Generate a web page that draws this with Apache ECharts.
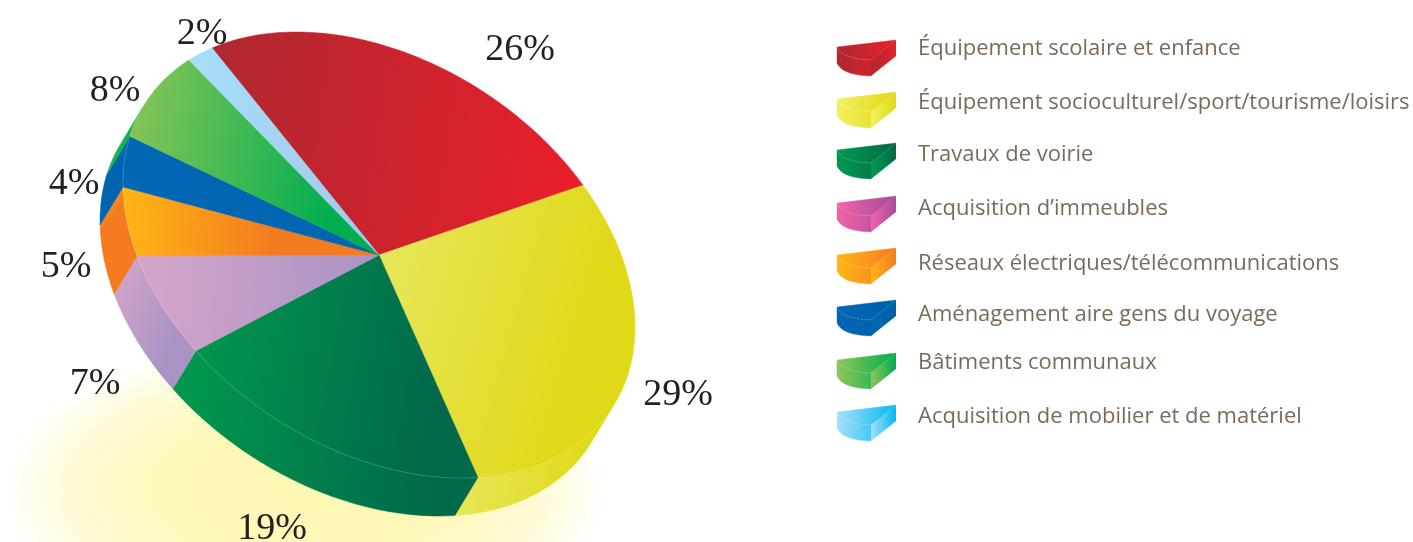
<!DOCTYPE html>
<html>
<head>
<meta charset="utf-8">
<style>html,body{margin:0;padding:0;background:#fff}#chart{width:1413px;height:542px}</style>
<script src="https://cdn.jsdelivr.net/npm/echarts@6/dist/echarts.min.js"></script>
</head>
<body>
<div id="chart"></div>
<script>
var categories = [
    "Équipement scolaire et enfance",
    "Équipement socioculturel/sport/tourisme/loisirs",
    "Travaux de voirie",
    "Acquisition d’immeubles",
    "Réseaux électriques/télécommunications",
    "Aménagement aire gens du voyage",
    "Bâtiments communaux",
    "Acquisition de mobilier et de matériel"
];
var shares = [26, 29, 19, 7, 5, 4, 8, 2];

// colours: [left, right, where the right colour is reached]
var sliceColors = [
    ["#AE2830", "#E81F2A", 1], ["#E8E862", "#E0D918", 0.9], ["#009A4E", "#00694A", 0.9],
    ["#D6A6CA", "#A993C4", 1], ["#FFB614", "#F47B20", 0.6], ["#0067B4", "#0065B0", 1],
    ["#8CC659", "#00AE4F", 0.9], ["#A6DFF9", "#A3CBEC", 1]
];
var legendColors = [
    ["#AE2830", "#E81F2A"], ["#F2F060", "#E0D915"], ["#009A4E", "#00694A"],
    ["#F263A9", "#A54B9C"], ["#FFB614", "#F47B20"], ["#0067B4", "#0060A8"],
    ["#8CC659", "#00AE4F"], ["#A6DFF9", "#00B9F2"]
];

// layout
var discCenter = [379, 255], axisU = [-167, -207], axisV = [194, -83], depth = [-23, 38];
var labelPos = [[520, 50], [678, 395], [272, 529], [95, 384], [66, 267], [74, 184], [115, 91], [202, 34]];
var legendTop = [40, 92, 143, 196, 248, 300, 353, 405];
var legendTextY = [49, 103, 155, 209, 264, 315, 363, 417];
var legendIconX = 837, legendTextX = 918;

var starts = [], sum = 0, total = 0;
shares.forEach(function (v) { total += v; });
shares.forEach(function (v) { starts.push(sum / total); sum += v; });

function discPoint(f) {
    var a = f * Math.PI * 2;
    return [
        discCenter[0] + axisU[0] * Math.cos(a) + axisV[0] * Math.sin(a),
        discCenter[1] + axisU[1] * Math.cos(a) + axisV[1] * Math.sin(a)
    ];
}
function arc(f0, f1) {
    var n = Math.ceil((f1 - f0) * 200) + 1, pts = [];
    for (var k = 0; k <= n; k++) pts.push(discPoint(f0 + (f1 - f0) * k / n));
    return pts;
}
function shifted(pts) {
    return pts.map(function (p) { return [p[0] + depth[0], p[1] + depth[1]]; });
}
function gradient(c) {
    return {
        type: "linear", x: 0, y: 0, x2: 1, y2: 0.25,
        colorStops: [{ offset: 0, color: c[0] }, { offset: c[2] || 1, color: c[1] }, { offset: 1, color: c[1] }]
    };
}
// part of the rim facing the viewer, between the two silhouette tangents
var cross = function (a, b) { return a[0] * b[1] - a[1] * b[0]; };
var frontStart = (Math.atan2(cross(axisV, depth), cross(axisU, depth)) / (Math.PI * 2) + 1) % 1;
var frontEnd = frontStart + 0.5;

function renderSide(params, api) {
    var i = params.dataIndex, f0 = starts[i], f1 = f0 + api.value(0) / total;
    var s0 = Math.max(f0, frontStart), s1 = Math.min(f1, frontEnd);
    if (s1 <= s0) return null;
    var rim = arc(s0, s1);
    var g = gradient(sliceColors[i]);
    return {
        type: "polygon",
        shape: { points: rim.concat(shifted(rim).reverse()) },
        style: { fill: g, stroke: g, lineWidth: 0.5 }
    };
}

function renderTop(params, api) {
    var i = params.dataIndex, f0 = starts[i], f1 = f0 + api.value(0) / total;
    var rim = arc(f0, f1);
    var g = gradient(sliceColors[i]);
    var children = [{
        type: "polygon",
        shape: { points: [discCenter].concat(rim) },
        style: { fill: g, stroke: g, lineWidth: 0.5 }
    }];
    var s0 = Math.max(f0, frontStart), s1 = Math.min(f1, frontEnd);
    if (s1 > s0) {
        children.push({
            type: "polyline",
            shape: { points: arc(s0, s1) },
            style: { fill: null, stroke: "rgba(255,255,255,0.25)", lineWidth: 0.6 }
        });
    }
    return { type: "group", children: children };
}

function renderLabel(params, api) {
    var i = params.dataIndex;
    return {
        type: "text",
        style: {
            x: labelPos[i][0], y: labelPos[i][1], text: api.value(0) + "%",
            fill: "#231F20", font: '38px "Liberation Serif"', align: "center", verticalAlign: "middle"
        }
    };
}

function renderLegend(params) {
    var i = params.dataIndex, x = legendIconX, y = legendTop[i];
    var c = legendColors[i];
    var stops = [{ offset: 0, color: c[0] }, { offset: 1, color: c[1] }];
    var across = { type: "linear", global: true, x: x, y: 0, x2: x + 59, y2: 0, colorStops: stops };
    var wall = { type: "linear", global: true, x: x + 34, y: 0, x2: x + 59, y2: 0, colorStops: stops };
    var curve = [];
    for (var k = 0; k <= 16; k++) {
        var t = k / 16, m = 1 - t;
        curve.push([
            x + 2 * m * t * 5 + t * t * 34,
            y + m * m * 7 + 2 * m * t * 19 + t * t * 20
        ]);
    }
    var low = curve.map(function (p) { return [p[0], p[1] + 16]; });
    return {
        type: "group",
        children: [
            { type: "polygon", shape: { points: curve.concat(low.slice().reverse()) }, style: { fill: across, stroke: across, lineWidth: 0.4 } },
            { type: "polygon", shape: { points: [[x, y + 7], [x + 59, y], [x + 34, y + 20]].concat(curve.slice().reverse()) }, style: { fill: across, stroke: across, lineWidth: 0.4 } },
            { type: "polygon", shape: { points: [[x + 34, y + 20], [x + 59, y], [x + 59, y + 16], [x + 34, y + 36]] }, style: { fill: wall } },
            { type: "polyline", shape: { points: curve }, style: { fill: null, stroke: "rgba(255,255,255,0.35)", lineWidth: 0.6, lineDash: [2, 2] } },
            {
                type: "text",
                style: {
                    x: legendTextX, y: legendTextY[i], text: categories[i], fill: "#7C6A58",
                    font: '22px "Open Sans"', align: "left", verticalAlign: "middle"
                }
            }
        ]
    };
}

var myChart = echarts.init(document.getElementById("chart"), null, { renderer: "canvas" });
var option = {
    animation: false,
    backgroundColor: "#fff",
    graphic: [{
        type: "circle",
        silent: true,
        z: -1,
        x: 305, y: 490,
        scaleX: 1, scaleY: 0.5,
        shape: { cx: 0, cy: 0, r: 300 },
        style: {
            fill: {
                type: "radial", x: 0.5, y: 0.5, r: 0.5,
                colorStops: [
                    { offset: 0, color: "#FEF7B4" },
                    { offset: 0.45, color: "#FEF8B8" },
                    { offset: 0.75, color: "#FEFAD2" },
                    { offset: 0.92, color: "#FFFDEE" },
                    { offset: 1, color: "#FFFFFF" }
                ]
            }
        }
    }],
    series: [
        { type: "custom", name: "side", coordinateSystem: "none", z: 3, silent: true, data: shares, renderItem: renderSide },
        { type: "custom", name: "top", coordinateSystem: "none", z: 4, silent: true, data: shares, renderItem: renderTop },
        { type: "custom", name: "labels", coordinateSystem: "none", z: 5, silent: true, data: shares, renderItem: renderLabel },
        { type: "custom", name: "legend", coordinateSystem: "none", z: 5, silent: true, data: categories, renderItem: renderLegend }
    ]
};
myChart.setOption(option);
</script>
</body>
</html>
